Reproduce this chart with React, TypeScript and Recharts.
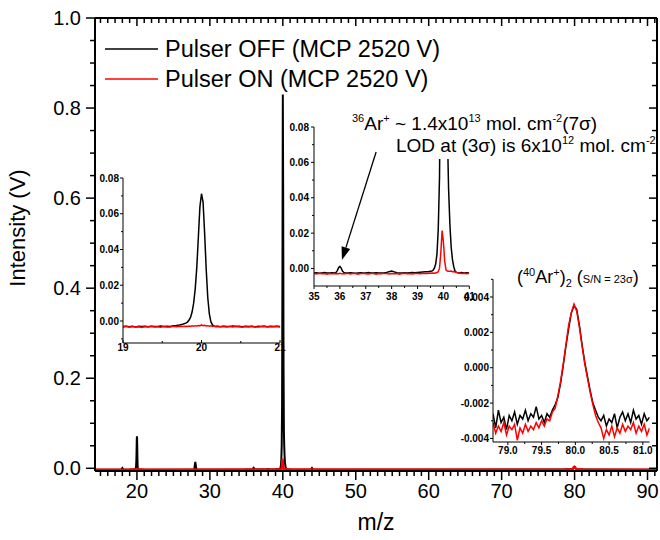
import React from 'react';
import { LineChart, Line, XAxis, YAxis, Legend, ReferenceLine } from 'recharts';

const FONT = '"Liberation Sans", Arial, Helvetica, sans-serif';

// ---- m/z 19–21 window (Ne / Ar++ region) ----
const mz20 = [
  19.0, 19.04, 19.08, 19.12, 19.16, 19.2, 19.24, 19.28, 19.32, 19.36, 19.4, 19.44, 19.48, 19.52, 19.56, 19.6, 19.64, 19.68, 19.72, 19.76, 19.8,
  19.82, 19.84, 19.86, 19.88, 19.9, 19.92, 19.94, 19.96, 19.98, 20.0, 20.02, 20.04, 20.06, 20.08, 20.1, 20.12, 20.14, 20.16, 20.18, 20.2,
  20.24, 20.28, 20.32, 20.36, 20.4, 20.44, 20.48, 20.52, 20.56, 20.6, 20.64, 20.68, 20.72, 20.76, 20.8, 20.84, 20.88, 20.92, 20.96, 21.0,
];
const off20 = [
  -0.0031, -0.0029, -0.0032, -0.003, -0.0033, -0.0029, -0.0031, -0.003, -0.0032, -0.0029, -0.0031, -0.003, -0.0028, -0.0031, -0.0029, -0.003, -0.0027, -0.0025, -0.0022, -0.0018, -0.0012,
  -0.0006, 0.0004, 0.002, 0.005, 0.01, 0.018, 0.03, 0.047, 0.064, 0.0712, 0.0665, 0.049, 0.029, 0.013, 0.004, -0.0005, -0.0022, -0.0029, -0.0031, -0.003,
  -0.0032, -0.0029, -0.0031, -0.003, -0.0028, -0.0031, -0.003, -0.0032, -0.0029, -0.0031, -0.003, -0.0033, -0.0029, -0.0031, -0.003, -0.0032, -0.0029, -0.0031, -0.003, -0.0031,
];
const on20 = [
  -0.0033, -0.003, -0.0035, -0.0031, -0.0034, -0.0032, -0.0036, -0.0031, -0.0033, -0.003, -0.0034, -0.0032, -0.0035, -0.0031, -0.0033, -0.0034, -0.003, -0.0032, -0.0029, -0.0031, -0.003,
  -0.0031, -0.0028, -0.003, -0.0027, -0.0029, -0.0026, -0.0028, -0.0025, -0.0027, -0.0022, -0.0026, -0.0024, -0.0028, -0.0026, -0.0029, -0.0027, -0.003, -0.0028, -0.0031, -0.0029,
  -0.0032, -0.003, -0.0034, -0.0031, -0.0033, -0.0029, -0.0032, -0.0035, -0.0031, -0.0033, -0.003, -0.0032, -0.0034, -0.0031, -0.0029, -0.0033, -0.0031, -0.0032, -0.003, -0.0033,
];

// ---- m/z 35–41 window (36Ar / 40Ar) ----
const mz36 = [
  35.0, 35.1, 35.2, 35.3, 35.4, 35.5, 35.6, 35.7, 35.8,
  35.85, 35.9, 35.95, 36.0, 36.05, 36.1, 36.15,
  36.2, 36.3, 36.4, 36.5, 36.6, 36.7, 36.8, 36.9, 37.0, 37.1,
  37.2, 37.3, 37.4, 37.5, 37.6, 37.7, 37.8, 37.9, 38.0, 38.1,
  38.2, 38.3, 38.4, 38.5, 38.6, 38.7, 38.8, 38.9, 39.0, 39.1,
  39.2, 39.3, 39.4, 39.5,
  39.55, 39.6, 39.65, 39.7, 39.75, 39.8, 39.85, 39.9, 39.95, 40.0,
  40.05, 40.1, 40.15, 40.2, 40.25, 40.3, 40.35, 40.4, 40.45, 40.5,
  40.6, 40.7, 40.8, 40.9, 41.0,
];
const off36 = [
  -0.0026, -0.0024, -0.0027, -0.0025, -0.0023, -0.0026, -0.0025, -0.0024, -0.0026,
  -0.0022, -0.0012, 0.0004, 0.0012, 0.0002, -0.0014, -0.0022,
  -0.0025, -0.0026, -0.0024, -0.0025, -0.0027, -0.0025, -0.0024, -0.0026, -0.0025, -0.0023,
  -0.0026, -0.0025, -0.0024, -0.0026, -0.0025, -0.0024, -0.0022, -0.0018, -0.0014, -0.0019,
  -0.0024, -0.0026, -0.0025, -0.0024, -0.0025, -0.0024, -0.0023, -0.0024, -0.0022, -0.0021,
  -0.002, -0.0019, -0.0018, -0.0016,
  -0.0015, -0.001, 0.0002, 0.0025, 0.008, 0.022, 0.052, 0.14, 0.45, 0.83,
  0.6, 0.22, 0.08, 0.045, 0.025, 0.012, 0.005, 0.001, -0.0015, -0.0022,
  -0.0025, -0.0023, -0.0026, -0.0024, -0.0025,
];
const on36 = [
  -0.0028, -0.0031, -0.0027, -0.003, -0.0029, -0.0032, -0.0028, -0.003, -0.0029,
  -0.0031, -0.0028, -0.003, -0.0027, -0.0029, -0.0031, -0.0028,
  -0.003, -0.0027, -0.0031, -0.0029, -0.0028, -0.0032, -0.0029, -0.0027, -0.003, -0.0031,
  -0.0028, -0.0029, -0.0032, -0.0028, -0.003, -0.0027, -0.0029, -0.0031, -0.0028, -0.003,
  -0.0029, -0.0032, -0.0028, -0.0027, -0.003, -0.0029, -0.0031, -0.0028, -0.0029, -0.003,
  -0.0027, -0.0029, -0.0028, -0.0026,
  -0.0027, -0.0026, -0.0027, -0.0025, -0.0023, -0.0018, 0.0002, 0.009, 0.0215, 0.015,
  0.004, -0.0008, -0.0014, -0.0015, -0.0016, -0.0015, -0.0018, -0.0017, -0.002, -0.0022,
  -0.0026, -0.0028, -0.0027, -0.0029, -0.0027,
];

// ---- m/z 78.8–81.1 window (Ar2+ dimer) ----
const mz80 = [
  78.78, 78.82, 78.86, 78.9, 78.94, 78.98, 79.02, 79.06, 79.1, 79.14,
  79.18, 79.22, 79.26, 79.3, 79.34, 79.38, 79.42, 79.46, 79.5, 79.54,
  79.58, 79.62, 79.66, 79.7, 79.74, 79.78, 79.82, 79.86, 79.9, 79.94,
  79.98, 80.02, 80.06, 80.1, 80.14, 80.18, 80.22, 80.26, 80.3, 80.34,
  80.38, 80.42, 80.46, 80.5, 80.54, 80.58, 80.62, 80.66, 80.7, 80.74,
  80.78, 80.82, 80.86, 80.9, 80.94, 80.98, 81.02, 81.06, 81.1,
];
const off80 = [
  -0.0026, -0.0034, -0.0024, -0.0031, -0.0028, -0.0035, -0.0027, -0.003, -0.0025, -0.0032,
  -0.0027, -0.0029, -0.0024, -0.003, -0.0026, -0.0028, -0.0022, -0.0029, -0.0027, -0.0031,
  -0.0026, -0.0028, -0.0024, -0.0021, -0.0017, -0.0009, 0.0001, 0.0012, 0.0022, 0.0031,
  0.0035, 0.0033, 0.0024, 0.0013, 0.0003, -0.0005, -0.0013, -0.002, -0.0024, -0.0028,
  -0.003, -0.0027, -0.0033, -0.0029, -0.0031, -0.0026, -0.0034, -0.0028, -0.0025, -0.003,
  -0.0026, -0.0031, -0.0024, -0.0029, -0.0027, -0.0032, -0.0026, -0.003, -0.0028,
];
const on80 = [
  -0.0031, -0.0037, -0.0033, -0.0036, -0.0031, -0.0038, -0.0033, -0.0035, -0.0032, -0.0041,
  -0.0034, -0.0037, -0.0032, -0.0036, -0.0033, -0.0035, -0.0031, -0.0034, -0.003, -0.0033,
  -0.0029, -0.003, -0.0025, -0.0023, -0.0016, -0.0008, 0.0002, 0.0013, 0.0024, 0.0031,
  0.0036, 0.0032, 0.0023, 0.0012, 0.0002, -0.0006, -0.0014, -0.0021, -0.0027, -0.0031,
  -0.0034, -0.004, -0.0035, -0.0038, -0.0033, -0.0039, -0.0034, -0.0037, -0.0032, -0.0036,
  -0.0033, -0.0035, -0.0031, -0.0037, -0.0033, -0.0036, -0.0032, -0.0038, -0.0034,
];

// ---- remaining full-range features ----
const mzStartOff = [14.25, 17.85, 18.0, 18.15];
const offStart = [-0.003, -0.003, 0.0005, -0.003];
const mzN2 = [27.85, 28.0, 28.15];
const offN2 = [-0.003, 0.014, -0.003];
const mzCO2 = [43.85, 44.0, 44.15];
const offCO2 = [-0.003, 0.0005, -0.003];
const mzStart = [14.25];
const mzEnd = [91.3];
const offEnd = [-0.003];
const onStart = [-0.0031];
const onEnd = [-0.0031];

const pts = (xs: number[], ys: number[]) => xs.map((x, i) => ({ x, y: ys[i] }));

const pulserOff = [
  ...pts(mzStartOff, offStart), ...pts(mz20, off20), ...pts(mzN2, offN2), ...pts(mz36, off36),
  ...pts(mzCO2, offCO2), ...pts(mz80, off80), ...pts(mzEnd, offEnd),
];
const pulserOn = [
  ...pts(mzStart, onStart), ...pts(mz20, on20), ...pts(mz36, on36), ...pts(mz80, on80), ...pts(mzEnd, onEnd),
];

// ticks
const mainXTicks = Array.from({ length: 77 }, (_, i) => 15 + i);
const mainYTicks = Array.from({ length: 21 }, (_, i) => +(i * 0.05).toFixed(2));
const ins1XTicks = [19, 19.5, 20, 20.5, 21];
const ins1YTicks = [-0.01, 0, 0.01, 0.02, 0.03, 0.04, 0.05, 0.06, 0.07, 0.08];
const ins2XTicks = [35, 35.5, 36, 36.5, 37, 37.5, 38, 38.5, 39, 39.5, 40, 40.5, 41];
const ins2YTicks = [0, 0.01, 0.02, 0.03, 0.04, 0.05, 0.06, 0.07, 0.08];
const ins3XTicks = [79, 79.25, 79.5, 79.75, 80, 80.25, 80.5, 80.75, 81];
const ins3YTicks = [-0.004, -0.003, -0.002, -0.001, 0, 0.001, 0.002, 0.003, 0.004, 0.005];

const X_DOMAIN: [number, number] = [14.25, 91.3];
const Y_DOMAIN: [number, number] = [-0.006, 1];

// main plot box (chart is 660 x 540)
const PLOT = { left: 95, right: 657, top: 18, bottom: 471 };

type Side = 'bottom' | 'top' | 'left' | 'right';
interface TickSpec {
  side: Side; out: boolean; major: number; len: number; minor: number;
  fmt?: (v: number) => string; size?: number; gap?: number; bold?: boolean; width?: number;
}

const onGrid = (v: number, step: number) => Math.abs(v / step - Math.round(v / step)) < 1e-6;

function tickRenderer(s: TickSpec) {
  const dirs = { bottom: [0, 1], top: [0, -1], left: [-1, 0], right: [1, 0] }[s.side];
  return (p: any) => {
    const v = p.payload.value;
    const big = onGrid(v, s.major);
    const len = big ? s.len : s.minor;
    const k = s.out ? 1 : -1;
    const reach = s.out ? len : 0;
    let label = null;
    if (big && s.fmt) {
      const common = { fontFamily: FONT, fontSize: s.size, fontWeight: s.bold ? 700 : 400, fill: '#000' };
      label = s.side === 'bottom'
        ? <text x={p.x} y={p.y + reach + (s.gap ?? 0)} dy="0.72em" textAnchor="middle" {...common}>{s.fmt(v)}</text>
        : <text x={p.x - reach - (s.gap ?? 0)} y={p.y} dy="0.36em" textAnchor="end" {...common}>{s.fmt(v)}</text>;
    }
    return (
      <g>
        <line x1={p.x} y1={p.y} x2={p.x + dirs[0] * len * k} y2={p.y + dirs[1] * len * k} stroke="#000" strokeWidth={s.width ?? 1} />
        {label}
      </g>
    );
  };
}

function arrowShape(p: any) {
  const { x1, y1, x2, y2 } = p;
  const dx = x2 - x1, dy = y2 - y1;
  const d = Math.hypot(dx, dy) || 1;
  const ux = dx / d, uy = dy / d;
  const bx = x2 - ux * 13, by = y2 - uy * 13;
  return (
    <g>
      <line x1={x1} y1={y1} x2={bx} y2={by} stroke="#000" strokeWidth={1.3} />
      <polygon points={`${x2},${y2} ${bx - uy * 4.5},${by + ux * 4.5} ${bx + uy * 4.5},${by - ux * 4.5}`} fill="#000" />
    </g>
  );
}

interface InsetProps {
  left: number; top: number; w: number; h: number; mt: number; mr: number; yw: number;
  xDomain: [number, number]; yDomain: [number, number];
  xTicks: number[]; yTicks: number[]; xTick: TickSpec; yTick: TickSpec;
  off: { x: number; y: number }[]; on: { x: number; y: number }[];
  children?: React.ReactNode;
}

function Inset(pr: InsetProps) {
  return (
    <div style={{ position: 'absolute', left: pr.left, top: pr.top }}>
      <LineChart width={pr.w} height={pr.h} margin={{ top: pr.mt, right: pr.mr, bottom: 0, left: 0 }}>
        <XAxis xAxisId="x" type="number" dataKey="x" domain={pr.xDomain} allowDataOverflow ticks={pr.xTicks}
          interval={0} height={17} tickSize={0} tickMargin={0} tickLine={false}
          axisLine={{ stroke: '#000', strokeWidth: 1 }} tick={tickRenderer(pr.xTick)} />
        <YAxis yAxisId="y" type="number" domain={pr.yDomain} allowDataOverflow ticks={pr.yTicks}
          interval={0} width={pr.yw} tickSize={0} tickMargin={0} tickLine={false}
          axisLine={{ stroke: '#000', strokeWidth: 1 }} tick={tickRenderer(pr.yTick)} />
        <Line xAxisId="x" yAxisId="y" data={pr.off} dataKey="y" type="linear" dot={false}
          stroke="#000" strokeWidth={1.5} isAnimationActive={false} />
        <Line xAxisId="x" yAxisId="y" data={pr.on} dataKey="y" type="linear" dot={false}
          stroke="#ff0000" strokeWidth={1.5} isAnimationActive={false} />
        {pr.children}
      </LineChart>
    </div>
  );
}

// top and right edges of the main frame with inward ticks (mirror of the bottom/left axes)
function FrameEdges() {
  const w = PLOT.right - PLOT.left;
  const h = PLOT.bottom - PLOT.top;
  return (
    <g stroke="#000">
      <line x1={PLOT.left} x2={PLOT.right} y1={PLOT.top} y2={PLOT.top} strokeWidth={2} />
      <line x1={PLOT.right} x2={PLOT.right} y1={PLOT.top} y2={PLOT.bottom} strokeWidth={2} />
      {mainXTicks.map((v) => {
        const px = PLOT.left + ((v - X_DOMAIN[0]) / (X_DOMAIN[1] - X_DOMAIN[0])) * w;
        return <line key={`t${v}`} x1={px} x2={px} y1={PLOT.top} y2={PLOT.top + (onGrid(v, 10) ? 8 : 5)} strokeWidth={1.5} />;
      })}
      {mainYTicks.map((v) => {
        const py = PLOT.bottom - ((v - Y_DOMAIN[0]) / (Y_DOMAIN[1] - Y_DOMAIN[0])) * h;
        return <line key={`r${v}`} x1={PLOT.right - (onGrid(v, 0.2) ? 8 : 5)} x2={PLOT.right} y1={py} y2={py} strokeWidth={1.5} />;
      })}
    </g>
  );
}

const f0 = (v: number) => String(v);
const f1 = (v: number) => v.toFixed(1);
const f2 = (v: number) => v.toFixed(2);
const f3 = (v: number) => v.toFixed(3);

export default function App() {
  return (
    <div style={{ position: 'absolute', left: 0, top: 0, width: 660, height: 540, background: '#fff', fontFamily: FONT }}>
      <Inset left={70} top={168} w={220} h={192} mt={10} mr={10} yw={53}
        xDomain={[19, 21]} yDomain={[-0.0123, 0.08]} xTicks={ins1XTicks} yTicks={ins1YTicks}
        xTick={{ side: 'bottom', out: false, major: 1, len: 3, minor: 2, fmt: f0, size: 10, gap: 1, bold: true }}
        yTick={{ side: 'left', out: true, major: 0.02, len: 3, minor: 2, fmt: f2, size: 10, gap: 1, bold: true }}
        off={pts(mz20, off20)} on={pts(mz20, on20)} />

      <Inset left={260} top={117} w={220} h={186} mt={10} mr={10.7} yw={54}
        xDomain={[35, 41]} yDomain={[-0.0099, 0.08]} xTicks={ins2XTicks} yTicks={ins2YTicks}
        xTick={{ side: 'bottom', out: true, major: 1, len: 3, minor: 2, fmt: f0, size: 10, gap: 4, bold: true }}
        yTick={{ side: 'left', out: true, major: 0.02, len: 3, minor: 2, fmt: f2, size: 10, gap: 2, bold: true }}
        off={pts(mz36, off36)} on={pts(mz36, on36)}>
        <ReferenceLine xAxisId="x" yAxisId="y" segment={[{ x: 37.4, y: 0.0659 }, { x: 36.08, y: 0.0048 }]}
          ifOverflow="visible" shape={arrowShape} />
      </Inset>

      <Inset left={440} top={270} w={215} h={189} mt={9.3} mr={5.4} yw={53}
        xDomain={[78.78, 81.1]} yDomain={[-0.0042, 0.005]} xTicks={ins3XTicks} yTicks={ins3YTicks}
        xTick={{ side: 'bottom', out: true, major: 0.5, len: 3, minor: 2, fmt: f1, size: 10, gap: 2, bold: true }}
        yTick={{ side: 'left', out: true, major: 0.002, len: 3, minor: 2, fmt: f3, size: 10, gap: 1, bold: true }}
        off={pts(mz80, off80)} on={pts(mz80, on80)} />

      <div style={{ position: 'absolute', left: 0, top: 0 }}>
        <LineChart width={660} height={540} margin={{ top: PLOT.top, right: 660 - PLOT.right, bottom: 0, left: 0 }}>
          <XAxis xAxisId="b" orientation="bottom" type="number" dataKey="x" domain={X_DOMAIN} allowDataOverflow
            ticks={mainXTicks} interval={0} height={540 - PLOT.bottom} tickSize={0} tickMargin={0} tickLine={false}
            axisLine={{ stroke: '#000', strokeWidth: 2 }}
            tick={tickRenderer({ side: 'bottom', out: true, major: 10, len: 9, minor: 5, fmt: f0, size: 20, gap: 4, width: 1.5 })} />
          <YAxis yAxisId="l" orientation="left" type="number" domain={Y_DOMAIN} allowDataOverflow
            ticks={mainYTicks} interval={0} width={PLOT.left} tickSize={0} tickMargin={0} tickLine={false}
            axisLine={{ stroke: '#000', strokeWidth: 2 }}
            tick={tickRenderer({ side: 'left', out: true, major: 0.2, len: 9, minor: 5, fmt: f1, size: 20, gap: 5, width: 1.5 })} />
          <Legend layout="vertical" align="center" verticalAlign="middle"
            wrapperStyle={{ left: 100, top: 34, width: 420, height: 'auto' }}
            content={(lp: any) => (
              <div>
                {(lp.payload || []).map((e: any) => (
                  <div key={e.value} style={{ display: 'flex', alignItems: 'center', height: 30 }}>
                    <svg width={60} height={30}>
                      <line x1={5} x2={58} y1={15} y2={15} stroke={e.color} strokeWidth={1.5} />
                    </svg>
                    <span style={{ fontFamily: FONT, fontSize: 23.5, marginLeft: 5, color: '#000', lineHeight: '30px' }}>{e.value}</span>
                  </div>
                ))}
              </div>
            )} />
          <Line xAxisId="b" yAxisId="l" data={pulserOff} dataKey="y" name="Pulser OFF (MCP 2520 V)" type="linear"
            dot={false} stroke="#000" strokeWidth={2} isAnimationActive={false} />
          <Line xAxisId="b" yAxisId="l" data={pulserOn} dataKey="y" name="Pulser ON (MCP 2520 V)" type="linear"
            dot={false} stroke="#ff0000" strokeWidth={2.5} isAnimationActive={false} />
        </LineChart>
      </div>

      <svg width={660} height={540} style={{ position: 'absolute', left: 0, top: 0, pointerEvents: 'none' }} fontFamily={FONT}>
        <FrameEdges />
        <text transform="translate(17,228) rotate(-90)" textAnchor="middle" dy="0.36em" fontSize={22}>Intensity (V)</text>
        <text x={376} y={522} textAnchor="middle" dy="0.36em" fontSize={23}>m/z</text>
        <rect x={420} y={110} width={55} height={26} fill="#fff" />
        <rect x={393} y={134} width={254} height={25} fill="#fff" />
        <text x={352} y={130} fontSize={19}>
          <tspan fontSize={11} dy={-8}>36</tspan>
          <tspan dy={8}>Ar</tspan>
          <tspan fontSize={11} dy={-8}>+</tspan>
          <tspan dy={8}>{' ~ 1.4x10'}</tspan>
          <tspan fontSize={11} dy={-8}>13</tspan>
          <tspan dy={8}>{' mol. cm'}</tspan>
          <tspan fontSize={11} dy={-8}>-2</tspan>
          <tspan dy={8}>(7σ)</tspan>
        </text>
        <text x={396} y={152} fontSize={19}>
          <tspan>{'LOD at (3σ) is 6x10'}</tspan>
          <tspan fontSize={11} dy={-8}>12</tspan>
          <tspan dy={8}>{' mol. cm'}</tspan>
          <tspan fontSize={11} dy={-8}>-2</tspan>
        </text>
        <text x={517} y={283} fontSize={18}>
          <tspan>(</tspan>
          <tspan fontSize={11} dy={-7}>40</tspan>
          <tspan dy={7}>Ar</tspan>
          <tspan fontSize={11} dy={-7}>+</tspan>
          <tspan dy={7}>)</tspan>
          <tspan fontSize={11} dy={4}>2</tspan>
          <tspan dy={-4}>{' ('}</tspan>
          <tspan fontSize={11}>S/N = 23σ</tspan>
          <tspan>)</tspan>
        </text>
      </svg>
    </div>
  );
}
